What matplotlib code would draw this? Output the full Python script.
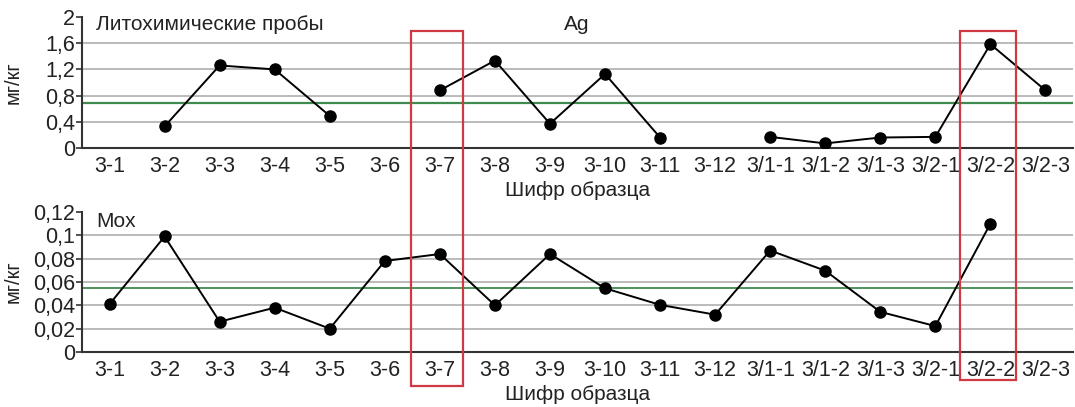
import matplotlib.pyplot as plt
import matplotlib.transforms as mtransforms
from matplotlib.patches import Rectangle
import numpy as np

plt.rcParams['font.family'] = ['Liberation Sans', 'DejaVu Sans']

samples = ["3-1", "3-2", "3-3", "3-4", "3-5", "3-6", "3-7", "3-8", "3-9",
           "3-10", "3-11", "3-12", "3/1-1", "3/1-2", "3/1-3", "3/2-1",
           "3/2-2", "3/2-3"]

ag = [np.nan, 0.33, 1.26, 1.20, 0.49, np.nan, 0.88, 1.335, 0.37,
      1.13, 0.16, np.nan, 0.17, 0.07, 0.16, 0.17, 1.585, 0.88]
ag_bg = 0.69
ag_ticks = [0, 0.4, 0.8, 1.2, 1.6, 2]
ag_ticklabels = ["0", "0,4", "0,8", "1,2", "1,6", "2"]

mox = [0.041, 0.099, 0.026, 0.038, 0.020, 0.078, 0.084, 0.040, 0.084,
       0.0546, 0.0404, 0.032, 0.087, 0.0697, 0.0344, 0.0222, 0.110, np.nan]
mox_bg = 0.0546
mox_ticks = [0, 0.02, 0.04, 0.06, 0.08, 0.1, 0.12]
mox_ticklabels = ["0", "0,02", "0,04", "0,06", "0,08", "0,1", "0,12"]

highlighted = ["3-7", "3/2-2"]

W, H = 1075, 407
fig = plt.figure(figsize=(W / 100, H / 100), dpi=100)

ax1 = fig.add_axes([82 / W, 1 - 148 / H, 991 / W, 131 / H])
ax2 = fig.add_axes([82 / W, 1 - 352 / H, 991 / W, 140 / H])

x = np.arange(len(samples))


def style(ax, values, bg, ticks, ticklabels, bg_lw):
    for t in ticks[1:-1]:
        ax.axhline(t, color="#b5b5b5", lw=1.3, zorder=1)
    ax.axhline(bg, color="#3f8a4f", lw=bg_lw, zorder=2)
    ax.plot(x, values, color="black", lw=1.4, marker="o", ms=8, zorder=3)
    ax.set_xlim(-0.5, len(samples) - 0.5)
    ax.set_ylim(ticks[0], ticks[-1])
    ax.set_yticks(ticks)
    ax.set_yticklabels(ticklabels, fontsize=15.5, color="#222222")
    ax.set_xticks(x)
    ax.set_xticklabels(samples, fontsize=15.5, color="#222222")
    ax.tick_params(axis="x", length=0, pad=6)
    ax.tick_params(axis="y", length=4, width=1.2, color="#333333", pad=1)
    for s in ["top", "right"]:
        ax.spines[s].set_visible(False)
    for s in ["left", "bottom"]:
        ax.spines[s].set_color("#333333")
        ax.spines[s].set_linewidth(1.5)
    ax.set_ylabel("мг/кг", fontsize=14.5, color="#222222")
    ax.set_xlabel("Шифр образца", fontsize=15, color="#222222", labelpad=3)
    ax.yaxis.set_label_coords(-0.06, 0.5)


style(ax1, ag, ag_bg, ag_ticks, ag_ticklabels, 1.6)
style(ax2, mox, mox_bg, mox_ticks, mox_ticklabels, 1.3)

fig.text(96 / W, 1 - 25 / H, "Литохимические пробы", fontsize=15,
         va="center", ha="left", color="#222222")
fig.text(577 / W, 1 - 25 / H, "Ag", fontsize=15, va="center", ha="center",
         color="#222222")
fig.text(96 / W, 1 - 222 / H, "Mox", fontsize=15, va="center", ha="left",
         color="#222222")

# red frames around highlighted samples, spanning both panels
trans = mtransforms.blended_transform_factory(ax1.transData, fig.transFigure)
frames = {"3-7": (-0.53, 0.42, 386), "3/2-2": (-0.55, 0.47, 380)}
for name in highlighted:
    i = samples.index(name)
    lo, hi, bottom = frames[name]
    rect = Rectangle((i + lo, 1 - bottom / H), hi - lo, (bottom - 31) / H,
                     transform=trans, fill=False, edgecolor="#cf3a42",
                     lw=1.6, clip_on=False, zorder=5)
    fig.add_artist(rect)

fig.savefig("out.png", dpi=100)
